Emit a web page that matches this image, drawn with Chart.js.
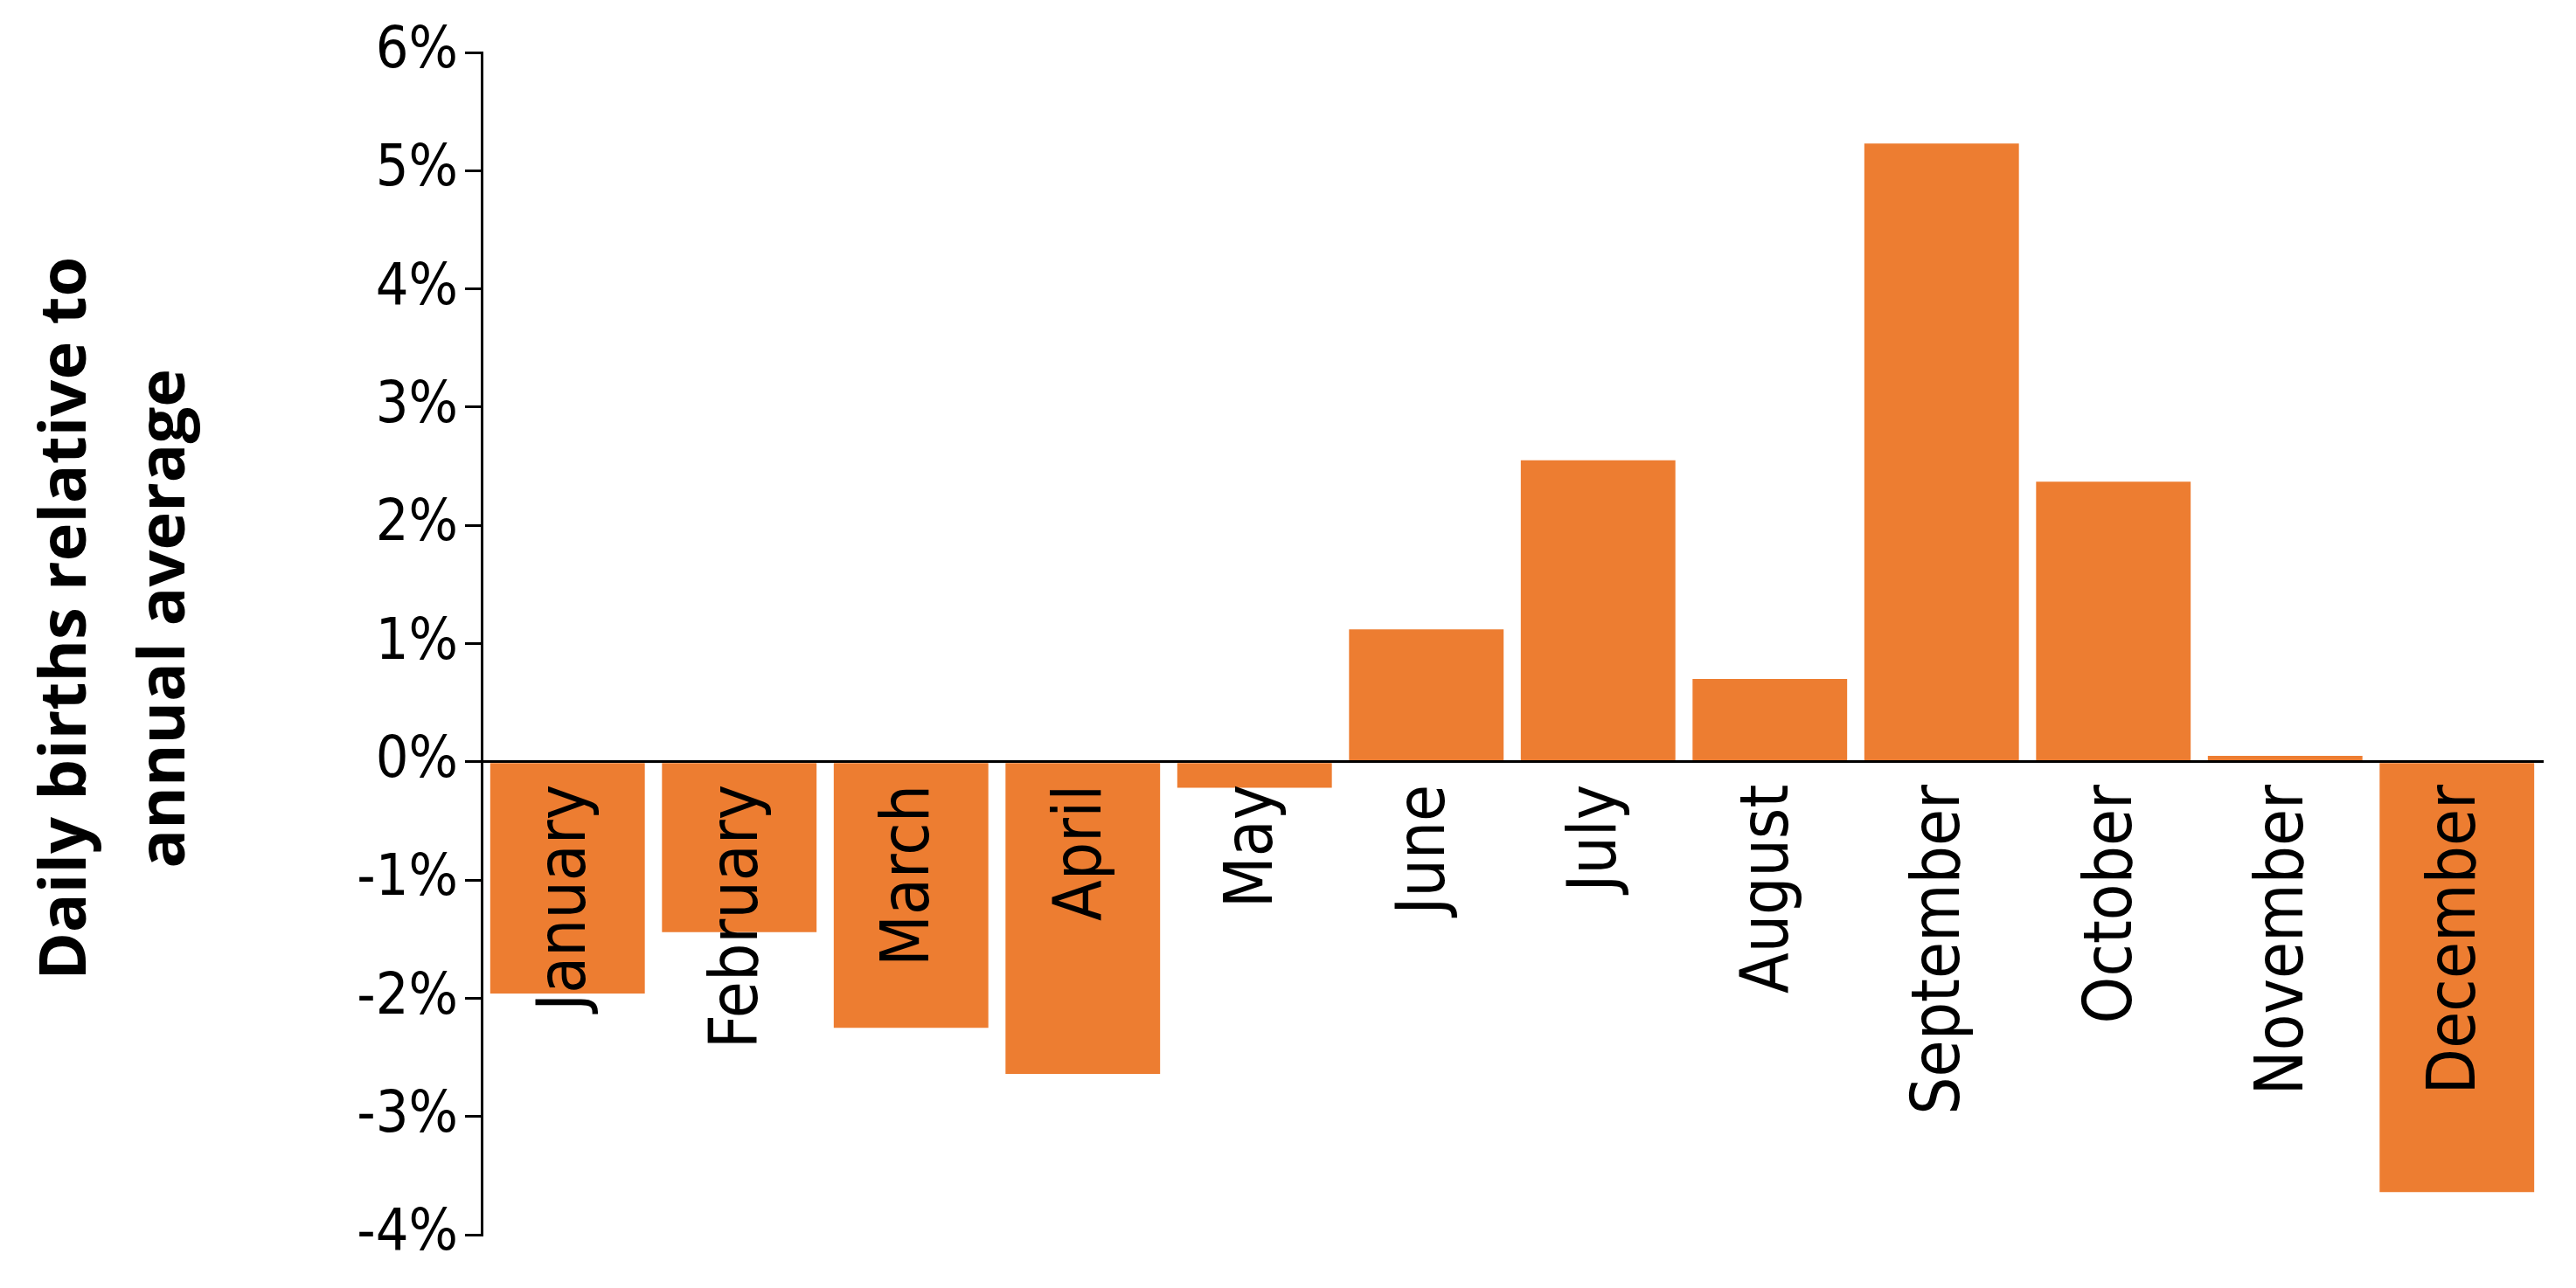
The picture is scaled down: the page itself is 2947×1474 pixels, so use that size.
<!DOCTYPE html>
<html>
<head>
<meta charset="utf-8">
<script src="https://cdn.jsdelivr.net/npm/chart.js@4"></script>
<style>
  body { margin: 0; background: #fff; }
  #wrap { width: 2947px; height: 1474px; }
</style>
</head>
<body>
<div id="wrap"><canvas id="birthsChart"></canvas></div>
<script>
// data (percent)
const months = ['January', 'February', 'March', 'April', 'May', 'June',
                'July', 'August', 'September', 'October', 'November', 'December'];
const birthsVsAverage = [-1.96, -1.44, -2.25, -2.64, -0.22, 1.12,
                         2.55, 0.70, 5.23, 2.37, 0.05, -3.64];
const yMin = -4;
const yMax = 6;
// leading spaces nudge the rotated title a bit above the axis middle, like the original
const axisTitle = ['   Daily births relative to', '   annual average'];

const condensed = "'DejaVu Sans Condensed', 'DejaVu Sans', sans-serif";

const ctx = document.getElementById('birthsChart').getContext('2d');
const chart = new Chart(ctx, {
    type: 'bar',
    data: {
        labels: months,
        datasets: [{
            data: birthsVsAverage,
            backgroundColor: '#ED7D31',
            borderWidth: 0,
            barPercentage: 0.9,
            categoryPercentage: 1.0
        }]
    },
    options: {
        responsive: true,
        maintainAspectRatio: false,
        animation: false,
        layout: { padding: { top: 60, right: 38, bottom: 61, left: 0 } },
        plugins: {
            legend: { display: false },
            tooltip: { enabled: false }
        },
        scales: {
            x: {
                position: { y: 0 },
                grid: { drawOnChartArea: false, drawTicks: false },
                border: { color: '#000', width: 3, z: 1 },
                ticks: {
                    z: 1,
                    minRotation: 90,
                    maxRotation: 90,
                    autoSkip: false,
                    padding: 26,
                    color: '#000',
                    font: { family: condensed, size: 76 }
                }
            },
            y: {
                min: yMin,
                max: yMax,
                afterFit: (scale) => { scale.width = 551; },
                grid: { drawOnChartArea: false, drawTicks: true, tickLength: 19, color: '#000', lineWidth: 3 },
                border: { color: '#000', width: 3 },
                ticks: {
                    stepSize: 1,
                    padding: 8,
                    color: '#000',
                    font: { family: condensed, size: 66 },
                    callback: (v) => v + '%'
                },
                title: {
                    display: true,
                    text: axisTitle,
                    color: '#000',
                    padding: { top: 20, bottom: 0 },
                    font: { family: "'Open Sans', sans-serif", size: 74, weight: 'bold', lineHeight: '113px' }
                }
            }
        }
    }
});
</script>
</body>
</html>
